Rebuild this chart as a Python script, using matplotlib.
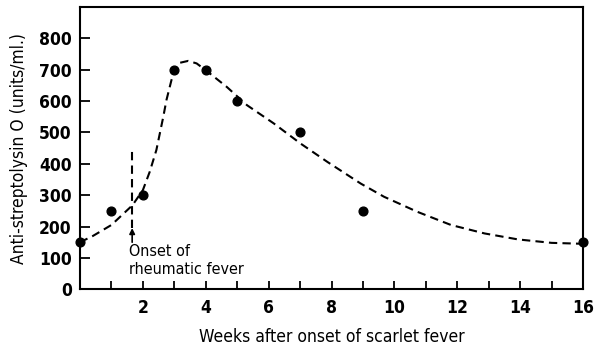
import matplotlib.pyplot as plt

# measured antibody titres
weeks = [0, 1, 2, 3, 4, 5, 7, 9, 16]
aso = [150, 250, 300, 700, 700, 600, 500, 250, 150]

# hand-drawn trend curve through the measurements
curve_weeks = [0, 0.41, 1.0, 1.67, 2.0, 2.22, 2.43, 2.65, 2.75, 2.91, 3.02, 3.18,
               3.44, 3.71, 4.03, 4.67, 5.31, 6.16, 7.01, 7.87, 8.93, 9.67, 10.73,
               11.8, 12.87, 13.93, 15.0, 16.0]
curve_aso = [150, 170, 205, 268, 316, 375, 444, 550, 603, 667, 698, 722,
             728, 720, 696, 645, 587, 529, 465, 406, 337, 295, 247,
             205, 178, 159, 148, 145]

onset_week = 1.66

x_ticks = list(range(1, 17))
x_labels = [str(w) if w % 2 == 0 else '' for w in x_ticks]
y_ticks = list(range(0, 900, 100))

plt.rcParams['font.family'] = 'DejaVu Sans'
plt.rcParams['font.stretch'] = 'condensed'

fig = plt.figure(figsize=(6, 3.47), dpi=100)
ax = fig.add_axes([0.1333, 0.1663, 0.8384, 0.8137])

ax.plot(curve_weeks, curve_aso, color='black', lw=1.5, linestyle=(0, (4, 2.5)),
        clip_on=False)
ax.plot(weeks, aso, 'o', color='black', markersize=6.3, clip_on=False, zorder=5)

# onset of rheumatic fever marker
ax.plot([onset_week, onset_week], [195, 449], color='black', lw=1.5,
        linestyle=(0, (4, 2.5)))
ax.annotate('', xy=(onset_week, 195), xytext=(onset_week, 150),
            arrowprops=dict(arrowstyle='-|>', color='black', lw=1.2,
                            mutation_scale=8, shrinkA=0, shrinkB=0))
ax.text(1.56, 143, 'Onset of\nrheumatic fever', ha='left', va='top',
        fontsize=11.5, linespacing=1.2)

ax.set_xlim(0, 16)
ax.set_ylim(0, 900)
ax.set_xticks(x_ticks)
ax.set_xticklabels(x_labels)
ax.set_yticks(y_ticks)
ax.tick_params(axis='x', direction='in', length=6, width=1.3, pad=7,
               labelsize=12.5)
ax.tick_params(axis='y', direction='in', length=7.5, width=1.3, pad=6,
               labelsize=12.5)
for lab in ax.get_xticklabels() + ax.get_yticklabels():
    lab.set_fontweight('bold')
for s in ax.spines.values():
    s.set_linewidth(1.5)

ax.set_xlabel('Weeks after onset of scarlet fever', fontsize=12.5, labelpad=8)
ax.set_ylabel('Anti-streptolysin O (units/ml.)', fontsize=12.5, labelpad=8)

fig.savefig('out.png', dpi=100)
